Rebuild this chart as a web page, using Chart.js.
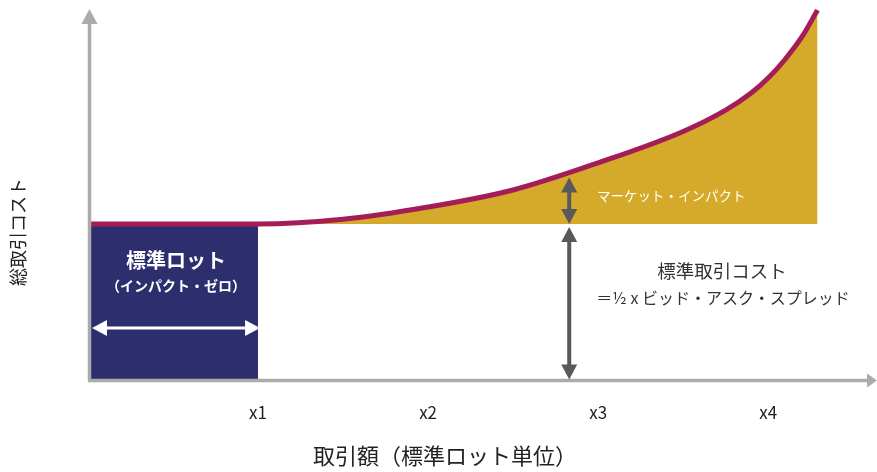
<!DOCTYPE html>
<html lang="ja">
<head>
<meta charset="utf-8">
<title>総取引コスト</title>
<script src="https://cdn.jsdelivr.net/npm/chart.js@4/dist/chart.umd.min.js"></script>
<style>
  html, body { margin: 0; padding: 0; background: #fff; }
  #wrap { width: 877px; height: 472px; }
</style>
</head>
<body>
<div id="wrap"><canvas id="costChart" width="877" height="472"></canvas></div>
<script>
// Trade size in standard-lot units vs. total cost (standard cost = 1)
const tradeSize = [0, 1, 1.5, 2, 2.5, 3, 3.5, 3.75, 3.9, 4, 4.1, 4.2, 4.29];
const totalCost = [1, 1, 1.03, 1.108, 1.217, 1.39, 1.59, 1.726, 1.835, 1.93, 2.05, 2.195, 2.363];

const standardCost = 1;
const lotRange = [0, 1];            // zero-impact zone
const xTickValues = [1, 2, 3, 4];
const xTickLabels = ["x1", "x2", "x3", "x4"];
const xMax = 4.64;
const yMax = 2.37;

// where the two cost arrows sit
const arrowX = 2.83;
const arrowTopCost = 1.31;

const COLORS = {
    curve: "#A51D58",
    impact: "#D5A929",
    lot: "#2C2E6E",
    axis: "#ABABAB",
    arrow: "#58595B",
    text: "#222222"
};
const FONT = "'Noto Sans CJK JP', 'Noto Sans', sans-serif";

function arrowHead(ctx, x, y, angle, len, half) {
    ctx.save();
    ctx.translate(x, y);
    ctx.rotate(angle);
    ctx.beginPath();
    ctx.moveTo(0, 0);
    ctx.lineTo(-len, -half);
    ctx.lineTo(-len, half);
    ctx.closePath();
    ctx.fill();
    ctx.restore();
}

// vertical double-headed arrow between two pixel y positions
function vArrow(ctx, x, y1, y2, color, width, len, half) {
    ctx.save();
    ctx.strokeStyle = color;
    ctx.fillStyle = color;
    ctx.lineWidth = width;
    ctx.beginPath();
    ctx.moveTo(x, y1 + len - 1);
    ctx.lineTo(x, y2 - len + 1);
    ctx.stroke();
    arrowHead(ctx, x, y1, -Math.PI / 2, len, half);
    arrowHead(ctx, x, y2, Math.PI / 2, len, half);
    ctx.restore();
}

function hArrow(ctx, x1, x2, y, color, width, len, half) {
    ctx.save();
    ctx.strokeStyle = color;
    ctx.fillStyle = color;
    ctx.lineWidth = width;
    ctx.beginPath();
    ctx.moveTo(x1 + len - 1, y);
    ctx.lineTo(x2 - len + 1, y);
    ctx.stroke();
    arrowHead(ctx, x1, y, Math.PI, len, half);
    arrowHead(ctx, x2, y, 0, len, half);
    ctx.restore();
}

const overlayPlugin = {
    id: "costOverlay",
    afterDatasetsDraw(chart) {
        const ctx = chart.ctx;
        const xs = chart.scales.x;
        const ys = chart.scales.y;
        const area = chart.chartArea;
        const x0 = xs.getPixelForValue(0) + 1.5;
        const y0 = ys.getPixelForValue(0) - 0.5;

        // axes with arrow tips
        ctx.save();
        ctx.strokeStyle = COLORS.axis;
        ctx.fillStyle = COLORS.axis;
        ctx.lineWidth = 3.5;
        ctx.beginPath();
        ctx.moveTo(x0, y0);
        ctx.lineTo(x0, area.top + 12);
        ctx.moveTo(x0 - 1.5, y0);
        ctx.lineTo(area.right - 8, y0);
        ctx.stroke();
        arrowHead(ctx, x0, area.top, -Math.PI / 2, 15, 8);
        arrowHead(ctx, area.right, y0, 0, 10, 7);
        ctx.restore();

        // market impact and standard cost arrows
        const ax = xs.getPixelForValue(arrowX);
        const base = ys.getPixelForValue(standardCost);
        vArrow(ctx, ax, ys.getPixelForValue(arrowTopCost) + 2, base, COLORS.arrow, 4, 15, 8);
        vArrow(ctx, ax, base + 3, y0 - 1, COLORS.arrow, 4, 15, 8);

        // width of the standard lot
        const lx1 = xs.getPixelForValue(lotRange[0]) + 4;
        const lx2 = xs.getPixelForValue(lotRange[1]) + 2;
        hArrow(ctx, lx1, lx2, 328, "#ffffff", 3, 15, 8);

        ctx.save();
        ctx.textAlign = "center";
        ctx.textBaseline = "middle";
        const lotMid = (xs.getPixelForValue(lotRange[0]) + xs.getPixelForValue(lotRange[1])) / 2 + 3;
        ctx.fillStyle = "#ffffff";
        ctx.font = "bold 20px " + FONT;
        ctx.fillText("標準ロット", lotMid, 260);
        ctx.font = "bold 14px " + FONT;
        ctx.fillText("（インパクト・ゼロ）", lotMid, 286);

        ctx.textAlign = "left";
        ctx.font = "13.5px " + FONT;
        ctx.fillText("マーケット・インパクト", 597, 196);

        ctx.textAlign = "center";
        ctx.fillStyle = "#333333";
        ctx.font = "18.5px " + FONT;
        ctx.fillText("標準取引コスト", 722, 271);
        ctx.font = "16px " + FONT;
        ctx.fillText("＝½ x ビッド・アスク・スプレッド", 723, 298);

        // axis titles
        ctx.fillStyle = COLORS.text;
        ctx.font = "22px " + FONT;
        ctx.fillText("取引額（標準ロット単位）", 445, 456);
        ctx.translate(18, 232);
        ctx.rotate(-Math.PI / 2);
        ctx.font = "18px " + FONT;
        ctx.fillText("総取引コスト", 0, 0);
        ctx.restore();
    }
};

const curvePoints = tradeSize.map((x, i) => ({ x: x, y: totalCost[i] }));
const lotPoints = lotRange.map(x => ({ x: x, y: standardCost }));

new Chart(document.getElementById("costChart"), {
    type: "line",
    data: {
        datasets: [
            {
                label: "総取引コスト",
                data: curvePoints,
                borderColor: COLORS.curve,
                borderWidth: 5,
                backgroundColor: COLORS.impact,
                fill: { value: standardCost },
                cubicInterpolationMode: "monotone",
                pointRadius: 0
            },
            {
                label: "標準ロット",
                data: lotPoints,
                borderWidth: 0,
                backgroundColor: COLORS.lot,
                fill: "origin",
                pointRadius: 0
            }
        ]
    },
    options: {
        responsive: false,
        animation: false,
        layout: { padding: { left: 88, right: 0, top: 9, bottom: 0 } },
        plugins: {
            legend: { display: false },
            tooltip: { enabled: false }
        },
        scales: {
            x: {
                type: "linear",
                min: 0,
                max: xMax,
                grid: { display: false, drawTicks: false },
                border: { display: false },
                afterBuildTicks: scale => {
                    scale.ticks = xTickValues.map(v => ({ value: v }));
                },
                afterFit: scale => { scale.height = 91; },
                ticks: {
                    padding: 21,
                    color: COLORS.text,
                    font: { family: FONT, size: 17 },
                    callback: (value) => xTickLabels[xTickValues.indexOf(value)]
                }
            },
            y: {
                display: false,
                min: 0,
                max: yMax
            }
        }
    },
    plugins: [overlayPlugin]
});
</script>
</body>
</html>
